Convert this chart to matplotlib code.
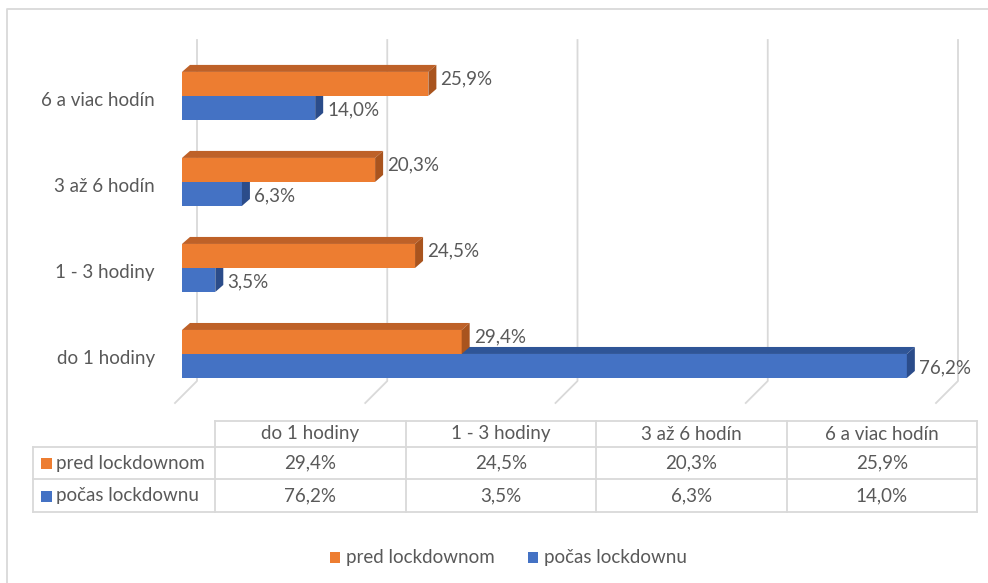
import matplotlib
matplotlib.use("Agg")
import matplotlib.pyplot as plt
from matplotlib.patches import Polygon, Rectangle
from matplotlib.lines import Line2D

# ---- data -------------------------------------------------------------
categories = ["do 1 hodiny", "1 - 3 hodiny", "3 až 6 hodín", "6 a viac hodín"]
series_names = ["pred lockdownom", "počas lockdownu"]
pred_lockdownom = [29.4, 24.5, 20.3, 25.9]
pocas_lockdownu = [76.2, 3.5, 6.3, 14.0]
x_ticks = [0, 20, 40, 60, 80]

# ---- style ------------------------------------------------------------
ORANGE, ORANGE_TOP, ORANGE_SIDE = "#ED7D31", "#BE6128", "#A9541E"
BLUE, BLUE_TOP, BLUE_SIDE = "#4472C4", "#2F5597", "#2B4C8A"
GRID = "#D9D9D9"
TEXT = "#595959"
FS = 13.5

plt.rcParams['font.family'] = ['Lato', 'DejaVu Sans']

W, H = 988, 583
fig = plt.figure(figsize=(W / 100, H / 100), dpi=100)


def fx(px):
    return px / W


def fy(py):
    return 1 - py / H


def fmt(v):
    return f"{v:.1f}".replace(".", ",") + "%"


# overlay in pixel units for frame, table and legend
lay = fig.add_axes([0, 0, 1, 1])
lay.set_xlim(0, W)
lay.set_ylim(H, 0)
lay.axis("off")

# chart frame
lay.add_line(Line2D([7, 7, W + 5], [H + 5, 9, 9], color=GRID, lw=1.3))

# plot area (front plane of the bars)
ax = fig.add_axes([fx(182), fy(403), fx(943) - fx(182), fy(40) - fy(403)])
ax.set_xlim(0, 80)
ax.set_ylim(-0.57, 3.65)
ax.axis("off")
fig.canvas.draw()
p0 = ax.transData.transform((0, 0))
p1 = ax.transData.transform((1, 1))
sx, sy = p1[0] - p0[0], p1[1] - p0[1]   # pixels per data unit

DX, DY = 8 / sx, 7 / sy                 # bar depth
WALL = 15 / sx                          # back wall shift
FRONT = 7 / sx                          # floor front shift
y_top = ax.get_ylim()[1]
y_front = ax.get_ylim()[0]
y_wall = y_front + 22 / sy
bh = 24 / sy                            # bar thickness

# back wall gridlines and floor
for t in x_ticks:
    ax.add_line(Line2D([t + WALL, t + WALL, t - FRONT], [y_top, y_wall, y_front],
                       color=GRID, lw=1.3, zorder=1, clip_on=False))


def bar3d(v, y0, face, top, side):
    ax.add_patch(Rectangle((0, y0), v, bh, fc=face, ec="none", zorder=3))
    ax.add_patch(Polygon([(0, y0 + bh), (v, y0 + bh), (v + DX, y0 + bh + DY), (DX, y0 + bh + DY)],
                         closed=True, fc=top, ec="none", zorder=3))
    ax.add_patch(Polygon([(v, y0), (v + DX, y0 + DY), (v + DX, y0 + bh + DY), (v, y0 + bh)],
                         closed=True, fc=side, ec="none", zorder=3))


for k, (a, b) in enumerate(zip(pred_lockdownom, pocas_lockdownu)):
    bar3d(b, k - bh, BLUE, BLUE_TOP, BLUE_SIDE)
    bar3d(a, k, ORANGE, ORANGE_TOP, ORANGE_SIDE)
    ax.text(a + DX + 4 / sx, k + bh - 7 / sy, fmt(a), ha="left", va="center",
            color=TEXT, fontsize=FS, zorder=5, clip_on=False)
    ax.text(b + DX + 4 / sx, k - bh / 2 - 2 / sy, fmt(b), ha="left", va="center",
            color=TEXT, fontsize=FS, zorder=5, clip_on=False)
    ax.text(-27 / sx, k - 5 / sy, categories[k], ha="right", va="center",
            color=TEXT, fontsize=FS, clip_on=False)

# ---- data table -------------------------------------------------------
col_x = [215 + i * 190.5 for i in range(len(categories) + 1)]
head_top, row_y = 421, [447, 479, 512]
lbl_left = 33
tl = dict(color=GRID, lw=1.3)
lay.add_line(Line2D([col_x[0], col_x[-1]], [head_top, head_top], **tl))
for yy in row_y:
    lay.add_line(Line2D([lbl_left, col_x[-1]], [yy, yy], **tl))
for xx in col_x:
    lay.add_line(Line2D([xx, xx], [head_top, row_y[-1]], **tl))
lay.add_line(Line2D([lbl_left, lbl_left], [row_y[0], row_y[-1]], **tl))

for i, c in enumerate(categories):
    cx = (col_x[i] + col_x[i + 1]) / 2
    lay.text(cx, (head_top + row_y[0]) / 2, c, ha="center", va="center", color=TEXT, fontsize=FS)
    lay.text(cx, (row_y[0] + row_y[1]) / 2, fmt(pred_lockdownom[i]), ha="center", va="center",
             color=TEXT, fontsize=FS)
    lay.text(cx, (row_y[1] + row_y[2]) / 2, fmt(pocas_lockdownu[i]), ha="center", va="center",
             color=TEXT, fontsize=FS)

for r, (name, col) in enumerate(zip(series_names, [ORANGE, BLUE])):
    yc = (row_y[r] + row_y[r + 1]) / 2
    lay.add_patch(Rectangle((41, yc - 5), 11, 11, fc=col, ec="none"))
    lay.text(56, yc, name, ha="left", va="center", color=TEXT, fontsize=FS)

# ---- legend -----------------------------------------------------------
for name, col, x0 in zip(series_names, [ORANGE, BLUE], [330, 528]):
    lay.add_patch(Rectangle((x0, 552), 10, 11, fc=col, ec="none"))
    lay.text(x0 + 16, 557, name, ha="left", va="center", color=TEXT, fontsize=FS)

fig.savefig("out.png", dpi=100, facecolor="white")
